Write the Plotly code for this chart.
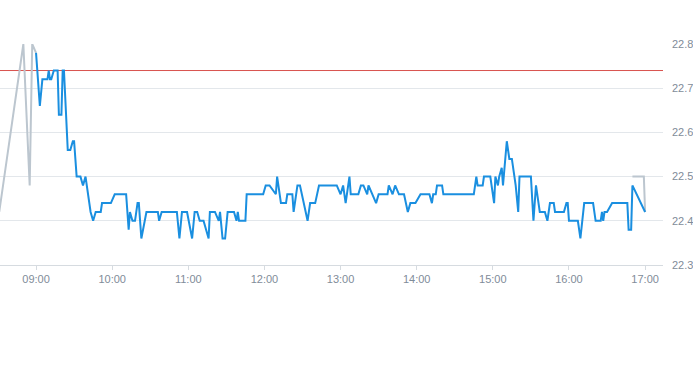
import plotly.graph_objects as go

DAY = "2024-01-02 "

pre_times = ["08:31", "08:50", "08:55", "08:57", "09:00"]
pre_prices = [22.42, 22.80, 22.48, 22.80, 22.78]

reg_times = [
    "09:00", "09:03", "09:05", "09:09", "09:10", "09:11", "09:12", "09:14", "09:17", "09:18",
    "09:20", "09:21", "09:22", "09:25", "09:27", "09:29", "09:30", "09:32", "09:35", "09:37",
    "09:39", "09:43", "09:45", "09:47", "09:51", "09:52", "09:59", "10:02", "10:11", "10:12",
    "10:13", "10:14", "10:16", "10:18", "10:20", "10:21", "10:23", "10:27", "10:36", "10:37",
    "10:39", "10:51", "10:53", "10:55", "10:59", "11:03", "11:05", "11:07", "11:09", "11:12",
    "11:16", "11:17", "11:21", "11:24", "11:25", "11:27", "11:29", "11:31", "11:36", "11:38",
    "11:39", "11:40", "11:45", "11:46", "11:59", "12:01", "12:04", "12:09", "12:10", "12:13",
    "12:17", "12:18", "12:22", "12:23", "12:26", "12:28", "12:34", "12:36", "12:40", "12:43",
    "12:57", "13:00", "13:02", "13:04", "13:07", "13:08", "13:14", "13:16", "13:18", "13:21",
    "13:22", "13:28", "13:30", "13:37", "13:38", "13:41", "13:43", "13:46", "13:50", "13:53",
    "13:55", "13:59", "14:03", "14:10", "14:12", "14:13", "14:15", "14:16", "14:20", "14:21",
    "14:45", "14:47", "14:48", "14:52", "14:53", "14:58", "15:01", "15:02", "15:04", "15:05",
    "15:07", "15:08", "15:11", "15:13", "15:15", "15:18", "15:20", "15:21", "15:30", "15:32",
    "15:34", "15:37", "15:41", "15:43", "15:45", "15:48", "15:49", "15:56", "15:58", "15:59",
    "16:00", "16:07", "16:09", "16:12", "16:19", "16:21", "16:25", "16:26", "16:27", "16:28",
    "16:30", "16:34", "16:46", "16:47", "16:49", "16:50", "17:00",
]
reg_prices = [
    22.78, 22.66, 22.72, 22.72, 22.74, 22.72, 22.72, 22.74, 22.74, 22.64,
    22.64, 22.74, 22.74, 22.56, 22.56, 22.58, 22.58, 22.50, 22.50, 22.48,
    22.50, 22.42, 22.40, 22.42, 22.42, 22.44, 22.44, 22.46, 22.46, 22.42,
    22.38, 22.42, 22.40, 22.40, 22.44, 22.44, 22.36, 22.42, 22.42, 22.40,
    22.42, 22.42, 22.36, 22.42, 22.42, 22.36, 22.42, 22.42, 22.40, 22.40,
    22.36, 22.42, 22.42, 22.40, 22.42, 22.36, 22.36, 22.42, 22.42, 22.40,
    22.42, 22.40, 22.40, 22.46, 22.46, 22.48, 22.48, 22.46, 22.50, 22.44,
    22.44, 22.46, 22.46, 22.42, 22.48, 22.48, 22.40, 22.44, 22.44, 22.48,
    22.48, 22.46, 22.48, 22.44, 22.50, 22.46, 22.46, 22.48, 22.48, 22.46,
    22.48, 22.44, 22.46, 22.46, 22.48, 22.46, 22.48, 22.46, 22.46, 22.42,
    22.44, 22.44, 22.46, 22.46, 22.44, 22.46, 22.46, 22.48, 22.48, 22.46,
    22.46, 22.50, 22.48, 22.48, 22.50, 22.50, 22.44, 22.50, 22.48, 22.50,
    22.52, 22.48, 22.58, 22.54, 22.54, 22.48, 22.42, 22.50, 22.50, 22.40,
    22.48, 22.42, 22.42, 22.40, 22.44, 22.44, 22.42, 22.42, 22.44, 22.44,
    22.40, 22.40, 22.36, 22.44, 22.44, 22.40, 22.40, 22.42, 22.40, 22.42,
    22.42, 22.44, 22.44, 22.38, 22.38, 22.48, 22.42,
]

post_times = ["16:50", "16:59", "17:00"]
post_prices = [22.50, 22.50, 22.42]

prev_close = 22.74

x_range = ["08:31:36", "17:14:06"]
y_ticks = [22.3, 22.4, 22.5, 22.6, 22.7, 22.8]
x_ticks = ["09:00", "10:00", "11:00", "12:00", "13:00", "14:00", "15:00", "16:00", "17:00"]


def ts(lst):
    return [DAY + t for t in lst]


fig = go.Figure()
fig.add_trace(go.Scatter(x=ts(pre_times), y=pre_prices, mode="lines",
                         line=dict(color="#bcc6cf", width=2), hoverinfo="skip"))
fig.add_trace(go.Scatter(x=ts(post_times), y=post_prices, mode="lines",
                         line=dict(color="#bcc6cf", width=2), hoverinfo="skip"))
fig.add_trace(go.Scatter(x=ts(reg_times), y=reg_prices, mode="lines",
                         line=dict(color="#1a8fe0", width=2)))
fig.add_shape(type="line", xref="paper", x0=0, x1=1, yref="y", y0=prev_close, y1=prev_close,
              layer="below", line=dict(color="#d9534f", width=1))

fig.update_layout(
    width=693, height=365,
    margin=dict(l=0, r=30, t=44, b=100),
    paper_bgcolor="white", plot_bgcolor="white",
    showlegend=False,
    font=dict(family="Liberation Sans, Arial, sans-serif", size=11, color="#7f8c99"),
    xaxis=dict(
        range=ts(x_range), automargin=False,
        tickvals=ts(x_ticks), ticktext=x_ticks,
        showgrid=False, zeroline=False,
        showline=True, linecolor="#d6dbe0", linewidth=1,
        ticks="outside", ticklen=4, tickcolor="#d6dbe0",
        tickfont=dict(size=11, color="#7f8c99"),
    ),
    yaxis=dict(
        side="right", automargin=False,
        range=[22.3, 22.8],
        tickvals=y_ticks, ticktext=[f"{v:.1f}" for v in y_ticks],
        showgrid=True, gridcolor="#e3e7eb", gridwidth=1,
        zeroline=False, showline=False, ticks="",
        ticklabelstandoff=8,
        tickfont=dict(size=11, color="#7f8c99"),
    ),
)

fig.write_html("out.html", config={"displayModeBar": False},
               post_script="document.body.style.margin='0';document.body.style.overflow='hidden';")
